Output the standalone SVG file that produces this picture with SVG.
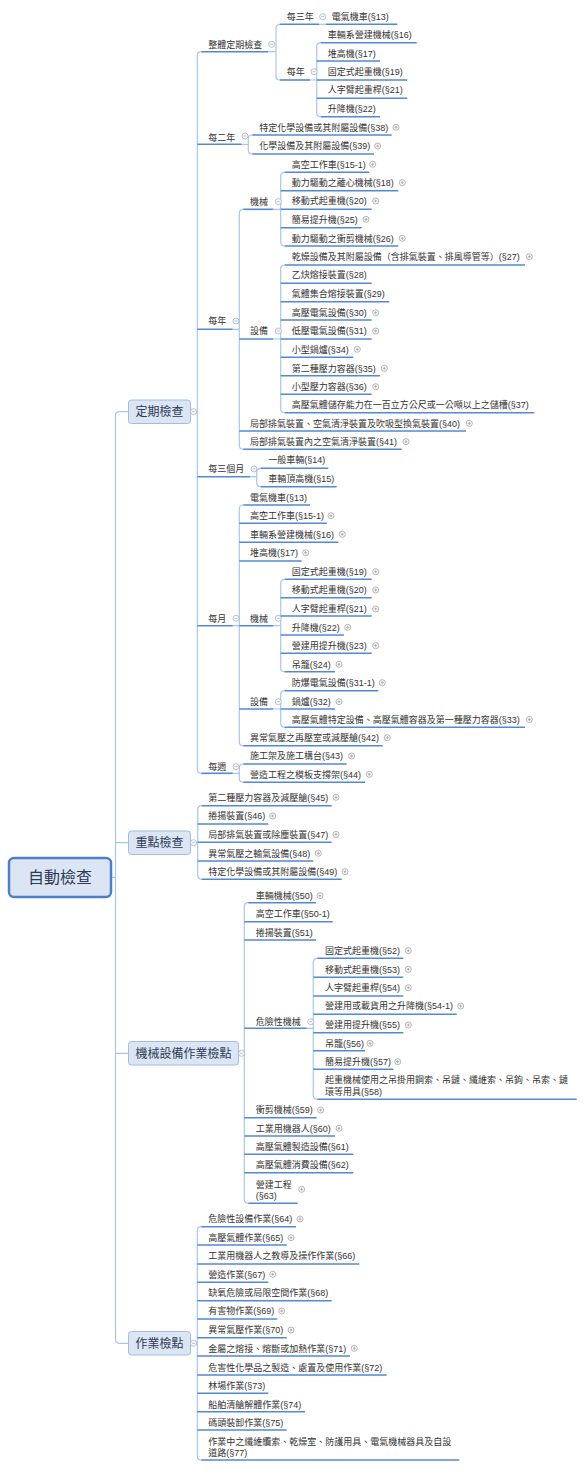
<svg xmlns="http://www.w3.org/2000/svg" xmlns:xlink="http://www.w3.org/1999/xlink" width="585" height="1469" viewBox="0 0 585 1469">
<style>
.t{font-family:"Liberation Sans","Noto Sans CJK TC","Noto Sans CJK SC",sans-serif;font-size:9px;fill:#333}
.bt{font-family:"Noto Sans CJK TC","Noto Sans CJK SC",sans-serif;font-size:12px;fill:#2d3b55;text-anchor:middle}
.rt{font-family:"Noto Sans CJK TC","Noto Sans CJK SC",sans-serif;font-size:16px;fill:#2d3b55;text-anchor:middle}
.u{stroke:#5289d6;stroke-width:1.6;fill:none}
.c{stroke:#a9c5ee;stroke-width:1.2;fill:none}
.bx{fill:#dbe5f4;stroke:#a3bce2;stroke-width:1}
.rb{fill:#dbe5f4;stroke:#4f7fcb;stroke-width:2.5}
</style>
<defs>
<g id="m"><circle r="3" fill="#fff" stroke="#a3afc2" stroke-width="0.8"/><path d="M-1.6 0H1.6" stroke="#a3afc2" stroke-width="0.8"/></g>
<g id="p"><circle r="3" fill="#fff" stroke="#a0a0a0" stroke-width="0.8"/><path d="M-1.6 0H1.6M0 -1.6V1.6" stroke="#a0a0a0" stroke-width="0.8"/></g>
</defs>
<rect width="585" height="1469" fill="#fff"/>

<g id="connectors">
<path class="c" d="M111 877.3H115.5M128.5 411.7H119.5Q115.5 411.7 115.5 415.7V1339.3Q115.5 1343.3 119.5 1343.3H128.5M115.5 842.7H128.5M115.5 1053.3H128.5"/>
<path class="c" d="M190.5 411.7H197.3M201.3 51.7Q197.3 51.7 197.3 55.7V769.3Q197.3 773.3 201.3 773.3"/>
<path class="c" d="M268 51.7H276M280 24.3Q276 24.3 276 28.3V76Q276 80 280 80"/>
<path class="c" d="M319 24.3H326"/>
<path class="c" d="M310 80H316.7M320.7 42.7Q316.7 42.7 316.7 46.7V112.7Q316.7 116.7 320.7 116.7"/>
<path class="c" d="M241.7 144.3H248.3M252.3 135Q248.3 135 248.3 139V150Q248.3 154 252.3 154"/>
<path class="c" d="M232.7 329.3H239.3M243.3 209.3Q239.3 209.3 239.3 213.3V445.3Q239.3 449.3 243.3 449.3"/>
<path class="c" d="M273.3 209.3H280.7M284.7 172.3Q280.7 172.3 280.7 176.3V242Q280.7 246 284.7 246"/>
<path class="c" d="M273.3 339H280.7M284.7 265Q280.7 265 280.7 269V408.7Q280.7 412.7 284.7 412.7"/>
<path class="c" d="M250 476.7H256.7M260.7 468.3Q256.7 468.3 256.7 472.3V482.7Q256.7 486.7 260.7 486.7"/>
<path class="c" d="M232.7 625.7H239.3M243.3 505Q239.3 505 239.3 509V741.7Q239.3 745.7 243.3 745.7"/>
<path class="c" d="M273.3 625.7H280.7M284.7 579.3Q280.7 579.3 280.7 583.3V667.7Q280.7 671.7 284.7 671.7"/>
<path class="c" d="M273.3 709H280.7M284.7 690.7Q280.7 690.7 280.7 694.7V723.3Q280.7 727.3 284.7 727.3"/>
<path class="c" d="M232.7 773.3H239.3M243.3 764Q239.3 764 239.3 768V778.3Q239.3 782.3 243.3 782.3"/>
<path class="c" d="M191 842.7H197.7M201.7 805.7Q197.7 805.7 197.7 809.7V875.3Q197.7 879.3 201.7 879.3"/>
<path class="c" d="M238.5 1053.3H244.3M248.3 902.7Q244.3 902.7 244.3 906.7V1199.3Q244.3 1203.3 248.3 1203.3"/>
<path class="c" d="M306.7 1028.3H313.3M317.3 958.3Q313.3 958.3 313.3 962.3V1095.3Q313.3 1099.3 317.3 1099.3"/>
<path class="c" d="M191 1343.3H197.3M201.3 1226.7Q197.3 1226.7 197.3 1230.7V1456Q197.3 1460 201.3 1460"/>
</g>

<g id="root"><rect class="rb" x="9" y="858" width="102" height="39" rx="5"/><text class="rt" x="60" y="883.4">自動檢查</text></g>

<g id="b-dingqi"><rect class="bx" x="128.5" y="400" width="62" height="23.5" rx="3"/><text class="bt" x="159.5" y="416.2">定期檢查</text><use href="#m" x="193.5" y="411.7"/></g>
<g id="b-zhongdian"><rect class="bx" x="128.5" y="831" width="62" height="23.5" rx="3"/><text class="bt" x="159.5" y="847.2">重點檢查</text><use href="#m" x="193.5" y="842.7"/></g>
<g id="b-jixie"><rect class="bx" x="128.5" y="1041.5" width="110" height="23.5" rx="3"/><text class="bt" x="183.5" y="1057.8">機械設備作業檢點</text><use href="#m" x="241.5" y="1053.3"/></g>
<g id="b-zuoye"><rect class="bx" x="128.5" y="1331.5" width="62" height="23.5" rx="3"/><text class="bt" x="159.5" y="1347.8">作業檢點</text><use href="#m" x="193.5" y="1343.3"/></g>

<g id="n-zhengti"><text class="t" x="208.3" y="47.6">整體定期檢查</text><path class="u" d="M201.3 51.7H268"/><use href="#m" x="271.7" y="44.3"/></g>
<g id="n-zt-3y"><text class="t" x="286.7" y="20">每三年</text><path class="u" d="M280 24.3H319"/><use href="#m" x="322.7" y="16.7"/></g>
<g id="n-zt-3y-13"><text class="t" x="331.7" y="20">電氣機車(§13)</text><path class="u" d="M326 24.3H397.3"/></g>
<g id="n-zt-1y"><text class="t" x="286.7" y="75">每年</text><path class="u" d="M280 80H310"/><use href="#m" x="314" y="71.7"/></g>
<g id="n-zt-16"><text class="t" x="327.7" y="38.3">車輛系營建機械(§16)</text><path class="u" d="M320.7 42.7H416.7"/></g>
<g id="n-zt-17"><text class="t" x="327.7" y="56.6">堆高機(§17)</text><path class="u" d="M316.7 61H380"/></g>
<g id="n-zt-19"><text class="t" x="327.7" y="75">固定式起重機(§19)</text><path class="u" d="M316.7 80H407.3"/></g>
<g id="n-zt-21"><text class="t" x="327.7" y="93.3">人字臂起重桿(§21)</text><path class="u" d="M316.7 98.3H407.3"/></g>
<g id="n-zt-22"><text class="t" x="327.7" y="112.3">升降機(§22)</text><path class="u" d="M320.7 116.7H380"/></g>

<g id="n-2y"><text class="t" x="208.3" y="140.6">每二年</text><path class="u" d="M197.3 144.3H241.7"/><use href="#m" x="245" y="136"/></g>
<g id="n-2y-38"><text class="t" x="259.3" y="130.6">特定化學設備或其附屬設備(§38)</text><path class="u" d="M252.3 135H391.7"/><use href="#p" x="396" y="127.3"/></g>
<g id="n-2y-39"><text class="t" x="259.3" y="149.3">化學設備及其附屬設備(§39)</text><path class="u" d="M252.3 154H374"/><use href="#p" x="377.7" y="146"/></g>

<g id="n-1y"><text class="t" x="208.3" y="324.3">每年</text><path class="u" d="M197.3 329.3H232.7"/><use href="#m" x="236" y="321"/></g>
<g id="n-1y-jx"><text class="t" x="250" y="205">機械</text><path class="u" d="M243.3 209.3H273.3"/><use href="#m" x="278.3" y="201.7"/></g>
<g id="n-1y-151"><text class="t" x="291.7" y="167.6">高空工作車(§15-1)</text><path class="u" d="M284.7 172.3H369.3"/><use href="#p" x="372.7" y="164.3"/></g>
<g id="n-1y-18"><text class="t" x="291.7" y="186">動力驅動之離心機械(§18)</text><path class="u" d="M280.7 190.7H398.3"/><use href="#p" x="402.3" y="182.7"/></g>
<g id="n-1y-20"><text class="t" x="291.7" y="204.3">移動式起重機(§20)</text><path class="u" d="M280.7 209.3H371.7"/><use href="#p" x="375.7" y="201"/></g>
<g id="n-1y-25"><text class="t" x="291.7" y="222.6">簡易提升機(§25)</text><path class="u" d="M280.7 227.7H361.7"/><use href="#p" x="366" y="219.3"/></g>
<g id="n-1y-26"><text class="t" x="291.7" y="241.6">動力驅動之衝剪機械(§26)</text><path class="u" d="M284.7 246H398.3"/><use href="#p" x="402.3" y="238.3"/></g>
<g id="n-1y-sb"><text class="t" x="250" y="334.3">設備</text><path class="u" d="M239.3 339H273.3"/><use href="#m" x="278.3" y="331"/></g>
<g id="n-1y-27"><text class="t" x="291.7" y="260">乾燥設備及其附屬設備（含排氣裝置、排風導管等）(§27)</text><path class="u" d="M284.7 265H525"/><use href="#p" x="529.3" y="256.7"/></g>
<g id="n-1y-28"><text class="t" x="291.7" y="278.3">乙炔熔接裝置(§28)</text><path class="u" d="M280.7 283.3H371.7"/></g>
<g id="n-1y-29"><text class="t" x="291.7" y="297.3">氣體集合熔接裝置(§29)</text><path class="u" d="M280.7 301.7H389.3"/></g>
<g id="n-1y-30"><text class="t" x="291.7" y="316">高壓電氣設備(§30)</text><path class="u" d="M280.7 320H371.7"/><use href="#p" x="375.7" y="312.7"/></g>
<g id="n-1y-31"><text class="t" x="291.7" y="334.3">低壓電氣設備(§31)</text><path class="u" d="M280.7 339H371.7"/><use href="#p" x="375.7" y="331"/></g>
<g id="n-1y-34"><text class="t" x="291.7" y="352.6">小型鍋爐(§34)</text><path class="u" d="M280.7 357.3H353.3"/><use href="#p" x="357.3" y="349.3"/></g>
<g id="n-1y-35"><text class="t" x="291.7" y="371.6">第二種壓力容器(§35)</text><path class="u" d="M280.7 375.7H380"/><use href="#p" x="384.3" y="368.3"/></g>
<g id="n-1y-36"><text class="t" x="291.7" y="390">小型壓力容器(§36)</text><path class="u" d="M280.7 394.3H371.7"/><use href="#p" x="375.7" y="386.7"/></g>
<g id="n-1y-37"><text class="t" x="291.7" y="408.3">高壓氣體儲存能力在一百立方公尺或一公噸以上之儲槽(§37)</text><path class="u" d="M284.7 412.7H534.3"/></g>
<g id="n-1y-40"><text class="t" x="250" y="426.6">局部排氣裝置、空氣清淨裝置及吹吸型換氣裝置(§40)</text><path class="u" d="M239.3 431H466"/><use href="#p" x="469.3" y="423.3"/></g>
<g id="n-1y-41"><text class="t" x="250" y="445">局部排氣裝置內之空氣清淨裝置(§41)</text><path class="u" d="M243.3 449.3H401.7"/><use href="#p" x="406" y="441.7"/></g>

<g id="n-3m"><text class="t" x="208.3" y="472.3">每三個月</text><path class="u" d="M197.3 476.7H250"/><use href="#m" x="254" y="469"/></g>
<g id="n-3m-14"><text class="t" x="268.3" y="463.3">一般車輛(§14)</text><path class="u" d="M260.7 468.3H328.3"/></g>
<g id="n-3m-15"><text class="t" x="268.3" y="481.6">車輛頂高機(§15)</text><path class="u" d="M260.7 486.7H336.7"/></g>

<g id="n-1m"><text class="t" x="208.3" y="621.6">每月</text><path class="u" d="M197.3 625.7H232.7"/><use href="#m" x="236" y="618.3"/></g>
<g id="n-1m-13"><text class="t" x="250" y="500.6">電氣機車(§13)</text><path class="u" d="M243.3 505H310"/></g>
<g id="n-1m-151"><text class="t" x="250" y="519">高空工作車(§15-1)</text><path class="u" d="M239.3 523.3H326.7"/><use href="#p" x="331" y="515.7"/></g>
<g id="n-1m-16"><text class="t" x="250" y="537.6">車輛系營建機械(§16)</text><path class="u" d="M239.3 542.3H338.3"/><use href="#p" x="342.3" y="534.3"/></g>
<g id="n-1m-17"><text class="t" x="250" y="556">堆高機(§17)</text><path class="u" d="M239.3 561H301.7"/><use href="#p" x="305.7" y="552.7"/></g>
<g id="n-1m-jx"><text class="t" x="250" y="621.6">機械</text><path class="u" d="M239.3 625.7H273.3"/><use href="#m" x="278.3" y="618.3"/></g>
<g id="n-1m-19"><text class="t" x="291.7" y="575">固定式起重機(§19)</text><path class="u" d="M284.7 579.3H371.7"/><use href="#p" x="375.7" y="571.7"/></g>
<g id="n-1m-20"><text class="t" x="291.7" y="593.3">移動式起重機(§20)</text><path class="u" d="M280.7 597.7H371.7"/><use href="#p" x="375.7" y="590"/></g>
<g id="n-1m-21"><text class="t" x="291.7" y="612.3">人字臂起重桿(§21)</text><path class="u" d="M280.7 616H371.7"/><use href="#p" x="375.7" y="609"/></g>
<g id="n-1m-22"><text class="t" x="291.7" y="630.6">升降機(§22)</text><path class="u" d="M280.7 635H344"/><use href="#p" x="347.7" y="627.3"/></g>
<g id="n-1m-23"><text class="t" x="291.7" y="649">營建用提升機(§23)</text><path class="u" d="M280.7 653.3H371.7"/><use href="#p" x="375.7" y="645.7"/></g>
<g id="n-1m-24"><text class="t" x="291.7" y="667.6">吊籠(§24)</text><path class="u" d="M284.7 671.7H335"/><use href="#p" x="339" y="664.3"/></g>
<g id="n-1m-sb"><text class="t" x="250" y="705">設備</text><path class="u" d="M239.3 709H273.3"/><use href="#m" x="278.3" y="701.7"/></g>
<g id="n-1m-311"><text class="t" x="291.7" y="686">防爆電氣設備(§31-1)</text><path class="u" d="M284.7 690.7H378.3"/><use href="#p" x="382.3" y="682.7"/></g>
<g id="n-1m-32"><text class="t" x="291.7" y="705">鍋爐(§32)</text><path class="u" d="M280.7 709H335"/><use href="#p" x="339" y="701.7"/></g>
<g id="n-1m-33"><text class="t" x="291.7" y="722.8">高壓氣體特定設備、高壓氣體容器及第一種壓力容器(§33)</text><path class="u" d="M284.7 727.3H525"/><use href="#p" x="529.3" y="719.5"/></g>
<g id="n-1m-42"><text class="t" x="250" y="741">異常氣壓之再壓室或減壓艙(§42)</text><path class="u" d="M243.3 745.7H382.7"/><use href="#p" x="387.3" y="737.7"/></g>

<g id="n-1w"><text class="t" x="208.3" y="770">每週</text><path class="u" d="M201.3 773.3H232.7"/><use href="#m" x="236" y="766.7"/></g>
<g id="n-1w-43"><text class="t" x="250" y="759.3">施工架及施工構台(§43)</text><path class="u" d="M243.3 764H346.7"/><use href="#p" x="351.7" y="756"/></g>
<g id="n-1w-44"><text class="t" x="250" y="777.6">營造工程之模板支撐架(§44)</text><path class="u" d="M243.3 782.3H365"/><use href="#p" x="369.3" y="774.3"/></g>

<g id="n-45"><text class="t" x="208.3" y="800.6">第二種壓力容器及減壓艙(§45)</text><path class="u" d="M201.7 805.7H331.7"/><use href="#p" x="336" y="797.3"/></g>
<g id="n-46"><text class="t" x="208.3" y="819.3">捲揚裝置(§46)</text><path class="u" d="M197.7 824H268.3"/><use href="#p" x="272.7" y="816"/></g>
<g id="n-47"><text class="t" x="208.3" y="837.6">局部排氣裝置或除塵裝置(§47)</text><path class="u" d="M197.7 842.3H331.7"/><use href="#p" x="336" y="834.3"/></g>
<g id="n-48"><text class="t" x="208.3" y="856.6">異常氣壓之輸氣設備(§48)</text><path class="u" d="M197.7 861H313.3"/><use href="#p" x="318.3" y="853.3"/></g>
<g id="n-49"><text class="t" x="208.3" y="875">特定化學設備或其附屬設備(§49)</text><path class="u" d="M201.7 879.3H341.7"/><use href="#p" x="345" y="871.7"/></g>

<g id="n-50"><text class="t" x="255.7" y="899">車輛機械(§50)</text><path class="u" d="M248.3 902.7H316"/><use href="#p" x="320" y="895.7"/></g>
<g id="n-501"><text class="t" x="255.7" y="917.3">高空工作車(§50-1)</text><path class="u" d="M244.3 921.7H332.7"/></g>
<g id="n-51"><text class="t" x="255.7" y="936">捲揚裝置(§51)</text><path class="u" d="M244.3 940H316"/></g>
<g id="n-wx"><text class="t" x="255.7" y="1025">危險性機械</text><path class="u" d="M244.3 1028.3H306.7"/><use href="#m" x="310.7" y="1021.7"/></g>
<g id="n-52"><text class="t" x="325" y="954">固定式起重機(§52)</text><path class="u" d="M317.3 958.3H403.3"/><use href="#p" x="408.3" y="950.7"/></g>
<g id="n-53"><text class="t" x="325" y="972.6">移動式起重機(§53)</text><path class="u" d="M313.3 977.3H403.3"/><use href="#p" x="408.3" y="969.3"/></g>
<g id="n-54"><text class="t" x="325" y="991">人字臂起重桿(§54)</text><path class="u" d="M313.3 996H403.3"/><use href="#p" x="408.3" y="987.7"/></g>
<g id="n-541"><text class="t" x="325" y="1009.3">營建用或載貨用之升降機(§54-1)</text><path class="u" d="M313.3 1014.3H456.7"/><use href="#p" x="460.7" y="1006"/></g>
<g id="n-55"><text class="t" x="325" y="1028.3">營建用提升機(§55)</text><path class="u" d="M313.3 1032.7H403.3"/><use href="#p" x="408.3" y="1025"/></g>
<g id="n-56"><text class="t" x="325" y="1046.6">吊籠(§56)</text><path class="u" d="M313.3 1050.7H365"/><use href="#p" x="370" y="1043.3"/></g>
<g id="n-57"><text class="t" x="325" y="1065">簡易提升機(§57)</text><path class="u" d="M313.3 1069.3H393.3"/><use href="#p" x="397.7" y="1061.7"/></g>
<g id="n-58"><text class="t" x="325" y="1083.3">起重機械使用之吊掛用鋼索、吊鏈、纖維索、吊鉤、吊索、鏈</text><text class="t" x="325" y="1095">環等用具(§58)</text><path class="u" d="M317.3 1099.3H576.7"/></g>
<g id="n-59"><text class="t" x="255.7" y="1113.3">衝剪機械(§59)</text><path class="u" d="M244.3 1117.7H316.7"/><use href="#p" x="320.7" y="1110"/></g>
<g id="n-60"><text class="t" x="255.7" y="1131.6">工業用機器人(§60)</text><path class="u" d="M244.3 1136H335"/><use href="#p" x="339" y="1128.3"/></g>
<g id="n-61"><text class="t" x="255.7" y="1150">高壓氣體製造設備(§61)</text><path class="u" d="M244.3 1154.3H353.3"/></g>
<g id="n-62"><text class="t" x="255.7" y="1168.3">高壓氣體消費設備(§62)</text><path class="u" d="M244.3 1172.7H353.3"/></g>
<g id="n-63"><text class="t" x="255.7" y="1188.3">營建工程</text><text class="t" x="255.7" y="1199.3">(§63)</text><path class="u" d="M248.3 1203.3H297.7"/><use href="#p" x="301.7" y="1189.3"/></g>

<g id="n-64"><text class="t" x="208.3" y="1222.3">危險性設備作業(§64)</text><path class="u" d="M201.3 1226.7H296"/><use href="#p" x="300" y="1219"/></g>
<g id="n-65"><text class="t" x="208.3" y="1241">高壓氣體作業(§65)</text><path class="u" d="M197.3 1245H286.7"/><use href="#p" x="291" y="1237.7"/></g>
<g id="n-66"><text class="t" x="208.3" y="1259.3">工業用機器人之教導及操作作業(§66)</text><path class="u" d="M197.3 1264H359.3"/></g>
<g id="n-67"><text class="t" x="208.3" y="1277.6">營造作業(§67)</text><path class="u" d="M197.3 1282.3H268.3"/><use href="#p" x="272.7" y="1274.3"/></g>
<g id="n-68"><text class="t" x="208.3" y="1296">缺氧危險或局限空間作業(§68)</text><path class="u" d="M197.3 1300.7H331.7"/></g>
<g id="n-69"><text class="t" x="208.3" y="1314.3">有害物作業(§69)</text><path class="u" d="M197.3 1319H277.3"/><use href="#p" x="281.7" y="1311"/></g>
<g id="n-70"><text class="t" x="208.3" y="1333.3">異常氣壓作業(§70)</text><path class="u" d="M197.3 1337.7H286.7"/><use href="#p" x="291" y="1330"/></g>
<g id="n-71"><text class="t" x="208.3" y="1351.6">金屬之熔接、熔斷或加熱作業(§71)</text><path class="u" d="M197.3 1356H350"/><use href="#p" x="354.3" y="1348.3"/></g>
<g id="n-72"><text class="t" x="208.3" y="1370.6">危害性化學品之製造、處置及使用作業(§72)</text><path class="u" d="M197.3 1375H386.7"/></g>
<g id="n-73"><text class="t" x="208.3" y="1389">林場作業(§73)</text><path class="u" d="M197.3 1393.3H268.3"/></g>
<g id="n-74"><text class="t" x="208.3" y="1407.6">船舶清艙解體作業(§74)</text><path class="u" d="M197.3 1411.7H305"/></g>
<g id="n-75"><text class="t" x="208.3" y="1426">碼頭裝卸作業(§75)</text><path class="u" d="M197.3 1430H286.7"/></g>
<g id="n-77"><text class="t" x="208.3" y="1445">作業中之纖維纜索、乾燥室、防護用具、電氣機械器具及自設</text><text class="t" x="208.3" y="1455.6">道路(§77)</text><path class="u" d="M201.3 1460H459.3"/></g>
</svg>
